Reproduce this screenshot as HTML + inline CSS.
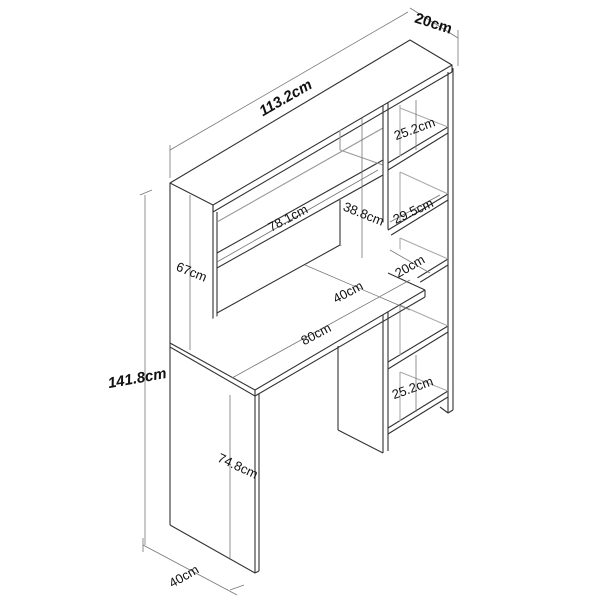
<!DOCTYPE html>
<html><head><meta charset="utf-8"><style>
html,body{margin:0;padding:0;background:#fff;}
svg{display:block}
text{font-family:"Liberation Sans",sans-serif;fill:#111;}
</style></head><body>
<svg width="600" height="600" viewBox="0 0 600 600">
<g fill="none" stroke="#333" stroke-width="1.1" stroke-linejoin="round">
<!-- top slab -->
<polygon points="170,183 410,40 452,65 213,205" fill="#fff"/>
<line x1="213" y1="205" x2="213" y2="212"/>
<line x1="452" y1="65" x2="452" y2="72"/>
<line x1="213" y1="212" x2="452" y2="72"/>
<!-- left hutch side -->
<line x1="170" y1="183" x2="170" y2="345"/>
<line x1="213" y1="205" x2="213" y2="365"/>
<line x1="217" y1="212" x2="217" y2="366"/>
<line x1="170" y1="343" x2="213" y2="365"/>
<!-- hutch inner -->
<line x1="217" y1="222" x2="383" y2="128" stroke="#999"/>
<line x1="217" y1="253" x2="383" y2="160"/>
<line x1="217" y1="268" x2="383" y2="175"/>
<line x1="340" y1="150" x2="383" y2="165" stroke="#999"/>
<line x1="340" y1="130" x2="340" y2="150" stroke="#999"/>
<line x1="340" y1="200" x2="340" y2="245"/>
<line x1="217" y1="313" x2="340" y2="245"/>
<line x1="340" y1="245" x2="395" y2="275" stroke="#999"/>
<!-- right column -->
<line x1="383" y1="105" x2="383" y2="453"/>
<line x1="388" y1="102" x2="388" y2="451"/>
<line x1="448" y1="72" x2="448" y2="413"/>
<line x1="453" y1="68" x2="453" y2="410"/>
<line x1="440" y1="407" x2="448" y2="413"/>
<line x1="448" y1="413" x2="453" y2="410"/>
<g>
<line x1="388" y1="163" x2="448" y2="127"/><line x1="388" y1="170" x2="448" y2="133"/>
<line x1="388" y1="230" x2="448" y2="194"/><line x1="388" y1="237" x2="448" y2="200"/>
<line x1="388" y1="296" x2="448" y2="259"/><line x1="388" y1="302" x2="448" y2="265"/>
<line x1="388" y1="362" x2="448" y2="326"/><line x1="388" y1="369" x2="448" y2="332"/>
<line x1="388" y1="428" x2="448" y2="391"/><line x1="388" y1="434" x2="448" y2="397"/>
</g>
<g stroke="#aaa">
<line x1="400" y1="105" x2="400" y2="156"/><line x1="400" y1="108" x2="448" y2="127"/>
<line x1="400" y1="172" x2="400" y2="222"/><line x1="400" y1="172" x2="448" y2="194"/>
<line x1="400" y1="238" x2="400" y2="288"/><line x1="400" y1="238" x2="448" y2="259"/>
<line x1="400" y1="305" x2="400" y2="355"/><line x1="400" y1="305" x2="448" y2="326"/>
<line x1="400" y1="372" x2="400" y2="421"/><line x1="400" y1="372" x2="448" y2="391"/>
</g>
<!-- desk top -->
<polygon points="170,343 383,222 425,290 255,390" fill="#fff" stroke="none"/>
<line x1="255" y1="390" x2="425" y2="290"/>
<line x1="425" y1="290" x2="425" y2="297"/>
<line x1="255" y1="396" x2="425" y2="297"/>
<line x1="170" y1="347" x2="255" y2="396"/>
<line x1="170" y1="343" x2="255" y2="390"/>
<line x1="255" y1="390" x2="255" y2="396"/>
<line x1="388" y1="273" x2="425" y2="290"/>
<!-- desk leg -->
<line x1="170" y1="345" x2="170" y2="525"/>
<line x1="255" y1="396" x2="255" y2="573"/>
<line x1="259" y1="394" x2="259" y2="571"/>
<line x1="170" y1="525" x2="255" y2="573"/>
<line x1="255" y1="573" x2="259" y2="571"/>
<!-- pedestal -->
<line x1="338" y1="346" x2="338" y2="430"/>
<line x1="338" y1="430" x2="383" y2="453"/>
</g>
<!-- dimension lines -->
<g stroke="#777" stroke-width="0.8" fill="none">
<line x1="170" y1="150" x2="408" y2="12"/>
<line x1="170" y1="145" x2="170" y2="178"/>
<line x1="410" y1="8" x2="458" y2="38"/>
<line x1="458" y1="30" x2="458" y2="66"/>
<line x1="145" y1="195" x2="145" y2="545"/>
<line x1="140" y1="195" x2="152" y2="190"/>
<line x1="143" y1="545" x2="237" y2="595"/>
<line x1="143" y1="538" x2="143" y2="552"/>
<line x1="230" y1="590" x2="244" y2="585"/>
<line x1="230" y1="395" x2="230" y2="560"/>
<line x1="190" y1="195" x2="190" y2="350"/>
<line x1="217" y1="262" x2="378" y2="170"/>
<line x1="362" y1="118" x2="362" y2="258"/>
<line x1="305" y1="265" x2="410" y2="310"/>
<line x1="232" y1="378" x2="410" y2="280"/>
<line x1="416" y1="100" x2="416" y2="150"/>
<line x1="416" y1="355" x2="416" y2="412"/>
<line x1="390" y1="250" x2="430" y2="273"/>
<line x1="390" y1="222" x2="440" y2="195"/>
</g>
<g font-size="13">
<text x="288" y="102" font-size="15" font-weight="bold" font-style="italic" transform="rotate(-30 288 102)" text-anchor="middle">113.2cm</text>
<text x="432" y="28" font-size="15" font-weight="bold" transform="rotate(18 432 28)" text-anchor="middle">20cm</text>
<text x="138" y="383" font-size="15" font-weight="bold" font-style="italic" transform="rotate(-10 138 383)" text-anchor="middle">141.8cm</text>
<text x="186" y="580" transform="rotate(-30 186 580)" text-anchor="middle">40cm</text>
<text x="236" y="470" transform="rotate(25 236 470)" text-anchor="middle">74.8cm</text>
<text x="190" y="276" transform="rotate(22 190 276)" text-anchor="middle">67cm</text>
<text x="290" y="222" transform="rotate(-28 290 222)" text-anchor="middle">78.1cm</text>
<text x="362" y="218" transform="rotate(22 362 218)" text-anchor="middle">38.8cm</text>
<text x="350" y="296" transform="rotate(-28 350 296)" text-anchor="middle">40cm</text>
<text x="318" y="338" transform="rotate(-28 318 338)" text-anchor="middle">80cm</text>
<text x="416" y="133" transform="rotate(-20 416 133)" text-anchor="middle">25.2cm</text>
<text x="415" y="215" transform="rotate(-25 415 215)" text-anchor="middle">29.5cm</text>
<text x="412" y="270" transform="rotate(-30 412 270)" text-anchor="middle">20cm</text>
<text x="414" y="392" transform="rotate(-20 414 392)" text-anchor="middle">25.2cm</text>
</g>
</svg>
</body></html>
